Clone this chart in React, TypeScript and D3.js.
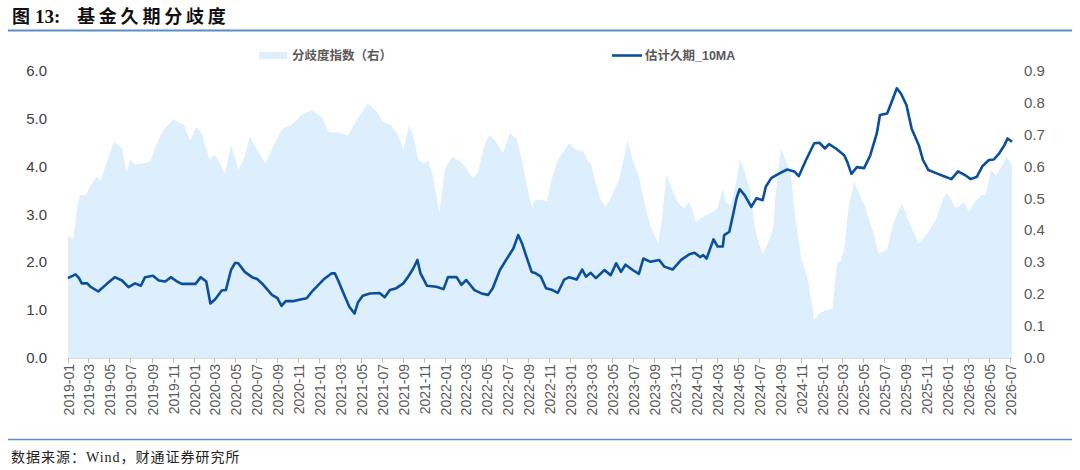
import * as d3 from "d3";
import { useEffect, useRef } from "react";

// 估计久期_10MA (left axis)
const durationDates = [
  "2019-01-01", "2019-01-23", "2019-02-02", "2019-02-10", "2019-02-26", "2019-03-07", "2019-03-30",
  "2019-04-24", "2019-05-17", "2019-06-07", "2019-06-26", "2019-07-15", "2019-08-01", "2019-08-13",
  "2019-09-05", "2019-09-22", "2019-10-11", "2019-10-27", "2019-11-14", "2019-11-28", "2020-01-07",
  "2020-01-22", "2020-02-07", "2020-02-19", "2020-03-04", "2020-03-23", "2020-04-04", "2020-04-19",
  "2020-05-01", "2020-05-10", "2020-05-29", "2020-06-19", "2020-07-04", "2020-07-22", "2020-08-16",
  "2020-09-01", "2020-09-13", "2020-09-25", "2020-10-19", "2020-11-10", "2020-11-25", "2020-12-13",
  "2021-01-13", "2021-02-06", "2021-02-15", "2021-02-24", "2021-03-10", "2021-03-29", "2021-04-13",
  "2021-04-23", "2021-05-07", "2021-05-28", "2021-06-25", "2021-07-10", "2021-07-25", "2021-08-13",
  "2021-09-02", "2021-09-16", "2021-10-01", "2021-10-13", "2021-10-22", "2021-11-10", "2021-12-07",
  "2021-12-28", "2022-01-10", "2022-02-04", "2022-02-18", "2022-03-04", "2022-03-28", "2022-04-17",
  "2022-05-07", "2022-05-20", "2022-06-10", "2022-06-28", "2022-07-19", "2022-08-02", "2022-08-13",
  "2022-08-26", "2022-09-10", "2022-09-22", "2022-10-07", "2022-10-22", "2022-11-10", "2022-11-25",
  "2022-12-14", "2022-12-28", "2023-01-19", "2023-02-04", "2023-02-15", "2023-03-01", "2023-03-16",
  "2023-04-10", "2023-04-28", "2023-05-14", "2023-05-28", "2023-06-10", "2023-07-01", "2023-07-19",
  "2023-08-01", "2023-08-22", "2023-09-16", "2023-10-01", "2023-10-25", "2023-11-19", "2023-12-13",
  "2023-12-28", "2024-01-13", "2024-01-22", "2024-02-01", "2024-02-10", "2024-02-21", "2024-03-04",
  "2024-03-19", "2024-03-23", "2024-04-07", "2024-04-19", "2024-04-28", "2024-05-07", "2024-05-22",
  "2024-06-10", "2024-06-25", "2024-07-13", "2024-07-22", "2024-08-07", "2024-08-28", "2024-09-22",
  "2024-10-13", "2024-10-26", "2024-11-16", "2024-12-10", "2024-12-25", "2025-01-10", "2025-01-22",
  "2025-02-11", "2025-03-07", "2025-03-16", "2025-03-28", "2025-04-13", "2025-05-04", "2025-05-22",
  "2025-06-10", "2025-06-19", "2025-07-10", "2025-07-25", "2025-08-07", "2025-08-19", "2025-09-04",
  "2025-09-19", "2025-10-10", "2025-10-22", "2025-11-07", "2025-12-01", "2025-12-22", "2026-01-13",
  "2026-02-01", "2026-02-20", "2026-03-10", "2026-03-28", "2026-04-13", "2026-05-02", "2026-05-16",
  "2026-06-01", "2026-06-16", "2026-06-25", "2026-07-08",
];
const durationValues = [
  1.67, 1.75, 1.67, 1.56, 1.56, 1.49, 1.39,
  1.55, 1.69, 1.62, 1.48, 1.56, 1.51, 1.69,
  1.72, 1.62, 1.6, 1.69, 1.6, 1.55, 1.55,
  1.69, 1.6, 1.14, 1.23, 1.41, 1.42, 1.84,
  1.99, 1.98, 1.8, 1.69, 1.65, 1.53, 1.32,
  1.25, 1.09, 1.19, 1.19, 1.23, 1.25, 1.41,
  1.64, 1.77, 1.77, 1.63, 1.39, 1.07, 0.93,
  1.16, 1.3, 1.35, 1.36, 1.27, 1.42, 1.46,
  1.56, 1.7, 1.87, 2.05, 1.77, 1.51, 1.49,
  1.44, 1.69, 1.69, 1.53, 1.63, 1.42, 1.35,
  1.32, 1.46, 1.84, 2.05, 2.29, 2.57, 2.4,
  2.12, 1.8, 1.77, 1.7, 1.46, 1.42, 1.36,
  1.64, 1.69, 1.64, 1.85, 1.7, 1.78, 1.67,
  1.84, 1.73, 1.98, 1.8, 1.95, 1.84, 1.76,
  2.08, 2.01, 2.05, 1.91, 1.85, 2.05, 2.17,
  2.2, 2.11, 2.15, 2.08, 2.26, 2.48, 2.33,
  2.33, 2.57, 2.64, 3.03, 3.34, 3.53, 3.4,
  3.16, 3.34, 3.3, 3.58, 3.76, 3.85, 3.94,
  3.9, 3.8, 4.14, 4.49, 4.5, 4.38, 4.47,
  4.38, 4.24, 4.1, 3.85, 3.99, 3.97, 4.24,
  4.7, 5.08, 5.11, 5.39, 5.64, 5.53, 5.29,
  4.8, 4.45, 4.14, 3.93, 3.86, 3.8, 3.74,
  3.9, 3.83, 3.74, 3.79, 4.01, 4.14, 4.15,
  4.28, 4.45, 4.59, 4.52,
];

// 分歧度指数 (right axis)
const divergenceDates = [
  "2019-01-01", "2019-01-16", "2019-01-28", "2019-02-05", "2019-02-21", "2019-03-06", "2019-03-25",
  "2019-04-07", "2019-04-24", "2019-05-15", "2019-06-07", "2019-06-21", "2019-07-01", "2019-07-15",
  "2019-08-09", "2019-08-28", "2019-09-12", "2019-10-05", "2019-11-04", "2019-12-04", "2019-12-22",
  "2020-01-10", "2020-01-26", "2020-02-15", "2020-03-04", "2020-03-19", "2020-04-01", "2020-04-19",
  "2020-05-10", "2020-05-25", "2020-06-13", "2020-07-04", "2020-07-28", "2020-08-22", "2020-09-16",
  "2020-10-10", "2020-10-28", "2020-11-16", "2020-12-10", "2021-01-07", "2021-01-27", "2021-02-19",
  "2021-03-10", "2021-03-25", "2021-04-19", "2021-05-22", "2021-06-16", "2021-07-04", "2021-07-28",
  "2021-08-19", "2021-09-02", "2021-09-19", "2021-10-01", "2021-10-16", "2021-11-01", "2021-11-13",
  "2021-11-28", "2021-12-16", "2022-01-01", "2022-01-22", "2022-02-15", "2022-03-04", "2022-03-23",
  "2022-04-07", "2022-04-26", "2022-05-10", "2022-05-29", "2022-06-19", "2022-07-08", "2022-07-28",
  "2022-08-13", "2022-08-26", "2022-09-10", "2022-09-22", "2022-10-13", "2022-10-25", "2022-11-07",
  "2022-11-25", "2022-12-28", "2023-01-19", "2023-02-07", "2023-02-22", "2023-03-01", "2023-03-16",
  "2023-03-30", "2023-04-13", "2023-04-28", "2023-05-22", "2023-06-07", "2023-06-16", "2023-07-01",
  "2023-07-19", "2023-08-04", "2023-08-22", "2023-09-13", "2023-09-22", "2023-10-07", "2023-10-19",
  "2023-11-10", "2023-11-28", "2023-12-13", "2024-01-01", "2024-01-22", "2024-02-20", "2024-03-04",
  "2024-03-19", "2024-03-28", "2024-04-13", "2024-04-25", "2024-05-08", "2024-05-22", "2024-06-07",
  "2024-06-19", "2024-06-29", "2024-07-13", "2024-07-28", "2024-08-13", "2024-08-19", "2024-09-04",
  "2024-09-19", "2024-10-02", "2024-10-13", "2024-11-01", "2024-11-22", "2024-12-10", "2024-12-25",
  "2025-01-13", "2025-02-01", "2025-02-07", "2025-02-15", "2025-02-24", "2025-03-07", "2025-03-19",
  "2025-04-04", "2025-04-19", "2025-05-07", "2025-05-25", "2025-06-16", "2025-07-10", "2025-07-28",
  "2025-08-22", "2025-09-13", "2025-10-10", "2025-11-04", "2025-11-28", "2025-12-22", "2026-01-01",
  "2026-01-25", "2026-02-10", "2026-02-20", "2026-03-04", "2026-03-25", "2026-04-10", "2026-04-23",
  "2026-05-07", "2026-05-22", "2026-06-07", "2026-06-22", "2026-07-04", "2026-07-08",
];
const divergenceValues = [
  0.386, 0.372, 0.474, 0.511, 0.511, 0.537, 0.568,
  0.558, 0.615, 0.678, 0.657, 0.579, 0.623, 0.605,
  0.61, 0.616, 0.662, 0.715, 0.748, 0.731, 0.681,
  0.725, 0.702, 0.626, 0.636, 0.609, 0.577, 0.668,
  0.589, 0.62, 0.694, 0.652, 0.61, 0.668, 0.72,
  0.73, 0.748, 0.767, 0.777, 0.757, 0.709, 0.707,
  0.703, 0.697, 0.746, 0.798, 0.772, 0.741, 0.73,
  0.697, 0.652, 0.73, 0.697, 0.62, 0.61, 0.62,
  0.568, 0.454, 0.595, 0.631, 0.616, 0.595, 0.563,
  0.58, 0.668, 0.699, 0.678, 0.642, 0.704, 0.689,
  0.62, 0.548, 0.474, 0.495, 0.496, 0.49, 0.558,
  0.62, 0.673, 0.652, 0.648, 0.615, 0.61, 0.548,
  0.495, 0.474, 0.5, 0.558, 0.636, 0.683, 0.62,
  0.568, 0.485, 0.412, 0.36, 0.418, 0.574, 0.54,
  0.485, 0.47, 0.49, 0.427, 0.443, 0.459, 0.47,
  0.532, 0.485, 0.48, 0.54, 0.623, 0.584, 0.527,
  0.417, 0.37, 0.323, 0.36, 0.406, 0.506, 0.657,
  0.62, 0.58, 0.464, 0.318, 0.245, 0.119, 0.14,
  0.15, 0.154, 0.224, 0.302, 0.302, 0.34, 0.464,
  0.553, 0.517, 0.475, 0.412, 0.328, 0.34, 0.422,
  0.485, 0.422, 0.36, 0.39, 0.433, 0.506, 0.517,
  0.47, 0.48, 0.49, 0.459, 0.495, 0.511, 0.511,
  0.589, 0.574, 0.6, 0.631, 0.61, 0.605,
];

const xTickLabels = [
  "2019-01", "2019-03", "2019-05", "2019-07", "2019-09", "2019-11",
  "2020-01", "2020-03", "2020-05", "2020-07", "2020-09", "2020-11",
  "2021-01", "2021-03", "2021-05", "2021-07", "2021-09", "2021-11",
  "2022-01", "2022-03", "2022-05", "2022-07", "2022-09", "2022-11",
  "2023-01", "2023-03", "2023-05", "2023-07", "2023-09", "2023-11",
  "2024-01", "2024-03", "2024-05", "2024-07", "2024-09", "2024-11",
  "2025-01", "2025-03", "2025-05", "2025-07", "2025-09", "2025-11",
  "2026-01", "2026-03", "2026-05", "2026-07",
];
const leftTicks = [0, 1, 2, 3, 4, 5, 6];
const rightTicks = [0, 0.1, 0.2, 0.3, 0.4, 0.5, 0.6, 0.7, 0.8, 0.9];

const seriesNames = ["分歧度指数（右）", "估计久期_10MA"];
const titleParts = ["图", "13:", "基金久期分歧度"];
const source = "数据来源：Wind，财通证券研究所";

const DivergenceChart = () => {
  const ref = useRef<SVGSVGElement>(null);

  useEffect(() => {
    const svg = d3.select(ref.current);
    const width = 1080;
    const height = 470;
    const left = 68;
    const right = 1012;
    const top = 71;
    const bottom = 358;
    const areaColor = "#ddeefc";
    const lineColor = "#0b4f9c";
    const axisText = "#595959";
    const sans = "Arial, 'Liberation Sans', 'Noto Sans CJK SC', sans-serif";
    const serif = "'Times New Roman', 'Liberation Serif', 'Noto Sans CJK SC', serif";

    svg.attr("width", width).attr("height", height);

    const parse = d3.timeParse("%Y-%m-%d");
    const x = d3
      .scaleTime()
      .domain([parse("2019-01-01")!, parse("2026-07-08")!])
      .range([left, right]);
    const yLeft = d3.scaleLinear().domain([0, 6]).range([bottom, top]);
    const yRight = d3.scaleLinear().domain([0, 0.9]).range([bottom, top]);

    svg.append("rect").attr("width", width).attr("height", height).attr("fill", "#fff");

    // title
    const t = svg
      .append("g")
      .attr("font-family", serif)
      .attr("font-size", "18px")
      .attr("font-weight", "bold")
      .attr("fill", "#111");
    t.append("text").attr("x", 12).attr("y", 23).text(titleParts[0]);
    t.append("text").attr("x", 35).attr("y", 23).attr("font-size", "19px").text(titleParts[1]);
    t.append("text").attr("x", 77).attr("y", 23).attr("letter-spacing", "3.8px").text(titleParts[2]);
    svg
      .append("line")
      .attr("x1", 8)
      .attr("x2", 1072)
      .attr("y1", 30.5)
      .attr("y2", 30.5)
      .attr("stroke", "#5b8ccb")
      .attr("stroke-width", 2);

    // divergence area
    const areaData = divergenceDates.map((d, i) => ({ date: parse(d)!, value: divergenceValues[i] }));
    const area = d3
      .area<{ date: Date; value: number }>()
      .x((d) => x(d.date))
      .y0(yRight(0))
      .y1((d) => yRight(d.value));
    svg.append("path").datum(areaData).attr("d", area).attr("fill", areaColor);

    // x axis
    svg
      .append("line")
      .attr("x1", left)
      .attr("x2", right)
      .attr("y1", bottom + 0.5)
      .attr("y2", bottom + 0.5)
      .attr("stroke", "#d9d9d9");
    const parseMonth = d3.timeParse("%Y-%m");
    const xg = svg.append("g");
    xTickLabels.forEach((label) => {
      const px = Math.round(x(parseMonth(label)!)) + 0.5;
      xg.append("line")
        .attr("x1", px)
        .attr("x2", px)
        .attr("y1", bottom)
        .attr("y2", bottom + 5)
        .attr("stroke", "#bfbfbf");
      xg.append("text")
        .attr("transform", `translate(${px + 5},${bottom + 6}) rotate(-90)`)
        .attr("text-anchor", "end")
        .attr("font-family", sans)
        .attr("font-size", "14px")
        .attr("fill", axisText)
        .text(label);
    });

    // duration line
    const lineData = durationDates.map((d, i) => ({ date: parse(d)!, value: durationValues[i] }));
    const line = d3
      .line<{ date: Date; value: number }>()
      .x((d) => x(d.date))
      .y((d) => yLeft(d.value));
    svg
      .append("path")
      .datum(lineData)
      .attr("d", line)
      .attr("fill", "none")
      .attr("stroke", lineColor)
      .attr("stroke-width", 2.6)
      .attr("stroke-linejoin", "round");

    // left axis labels
    svg
      .append("g")
      .selectAll("text")
      .data(leftTicks)
      .join("text")
      .attr("x", 47)
      .attr("y", (d) => yLeft(d) + 5)
      .attr("text-anchor", "end")
      .attr("font-family", sans)
      .attr("font-size", "15px")
      .attr("fill", "#404040")
      .text((d) => d3.format(".1f")(d));

    // right axis labels
    svg
      .append("g")
      .selectAll("text")
      .data(rightTicks)
      .join("text")
      .attr("x", 1024)
      .attr("y", (d) => yRight(d) + 5)
      .attr("font-family", sans)
      .attr("font-size", "15px")
      .attr("fill", axisText)
      .text((d) => d3.format(".1f")(d));

    // legend
    const legend = svg
      .append("g")
      .attr("font-family", sans)
      .attr("font-size", "12.5px")
      .attr("font-weight", "bold")
      .attr("fill", axisText);
    legend.append("rect").attr("x", 259).attr("y", 52).attr("width", 28).attr("height", 7).attr("fill", areaColor);
    legend.append("text").attr("x", 292).attr("y", 60).text(seriesNames[0]);
    legend
      .append("line")
      .attr("x1", 612)
      .attr("x2", 642)
      .attr("y1", 55.5)
      .attr("y2", 55.5)
      .attr("stroke", lineColor)
      .attr("stroke-width", 2.6);
    legend.append("text").attr("x", 645).attr("y", 60).text(seriesNames[1]);

    // footer
    svg
      .append("line")
      .attr("x1", 8)
      .attr("x2", 1072)
      .attr("y1", 439.5)
      .attr("y2", 439.5)
      .attr("stroke", "#5b8ccb")
      .attr("stroke-width", 1.5);
    svg
      .append("text")
      .attr("x", 11)
      .attr("y", 462)
      .attr("font-family", serif)
      .attr("font-size", "14px")
      .attr("letter-spacing", "1px")
      .attr("fill", "#222")
      .text(source);

    return () => {
      svg.selectAll("*").remove();
    };
  }, []);

  return <svg ref={ref} style={{ position: "absolute", left: 0, top: 0 }}></svg>;
};

export default function App() {
  return <DivergenceChart />;
}
